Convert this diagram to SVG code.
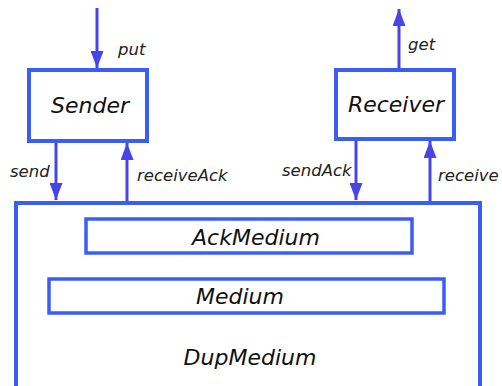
<svg xmlns="http://www.w3.org/2000/svg" width="502" height="386" viewBox="0 0 502 386">
<style>
.box{fill:#fff;stroke:#3a5cf7;stroke-width:4}
.inner{fill:#fff;stroke:#3a5cf7;stroke-width:3.5}
.conn{stroke:#4646e8;stroke-width:3;fill:none}
.big{font-family:"DejaVu Sans",Verdana,sans-serif;font-style:italic;font-size:22px;fill:#111;text-anchor:middle}
.lbl{font-family:"DejaVu Sans",Verdana,sans-serif;font-style:italic;font-size:16.5px;fill:#222}
</style>
<defs>
<marker id="ah" viewBox="0 0 17 13" refX="17" refY="6.5" markerWidth="17" markerHeight="13" markerUnits="userSpaceOnUse" orient="auto">
<path d="M0,0 L17,6.5 L0,13 z" fill="#4646e8"/>
</marker>
</defs>
<g id="dupmedium">
<rect class="box" x="16" y="203" width="464" height="200"/>
<text class="big" x="250" y="365">DupMedium</text>
</g>
<g id="ackmedium">
<rect class="inner" x="86" y="219" width="326" height="34"/>
<text class="big" x="256" y="245">AckMedium</text>
</g>
<g id="medium">
<rect class="inner" x="49" y="279" width="395" height="34"/>
<text class="big" x="240" y="304">Medium</text>
</g>
<g id="sender">
<rect class="box" x="29" y="70" width="118" height="71"/>
<text class="big" x="90" y="113">Sender</text>
</g>
<g id="receiver">
<rect class="box" x="336" y="70" width="118" height="69"/>
<text class="big" x="396" y="112">Receiver</text>
</g>
<g id="connectors">
<line class="conn" x1="97" y1="8" x2="97" y2="68" marker-end="url(#ah)"/>
<line class="conn" x1="56" y1="143" x2="56" y2="200" marker-end="url(#ah)"/>
<line class="conn" x1="127" y1="201" x2="127" y2="143" marker-end="url(#ah)"/>
<line class="conn" x1="399" y1="68" x2="399" y2="9" marker-end="url(#ah)"/>
<line class="conn" x1="356" y1="141" x2="356" y2="200" marker-end="url(#ah)"/>
<line class="conn" x1="430" y1="201" x2="430" y2="141" marker-end="url(#ah)"/>
<text class="lbl" x="118" y="55">put</text>
<text class="lbl" x="10" y="177">send</text>
<text class="lbl" x="137" y="181">receiveAck</text>
<text class="lbl" x="408" y="50">get</text>
<text class="lbl" x="282" y="176">sendAck</text>
<text class="lbl" x="438" y="181">receive</text>
</g>
</svg>
